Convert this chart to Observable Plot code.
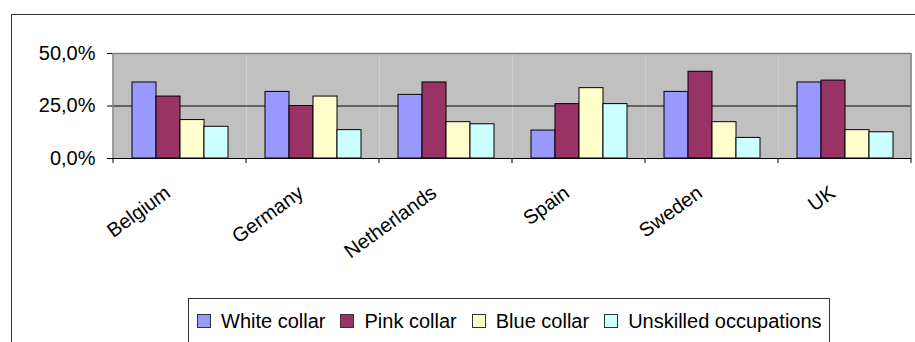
<!DOCTYPE html>
<html><head><meta charset="utf-8">
<script src="https://cdn.jsdelivr.net/npm/d3@7"></script>
<script src="https://cdn.jsdelivr.net/npm/@observablehq/plot@0.6"></script>
<style>
body{margin:0;background:#fff;font-family:"Liberation Sans",Arial,sans-serif;}
#wrap{position:relative;width:915px;height:342px;overflow:hidden;background:#fff}
#frame{position:absolute;left:11px;top:14px;width:960px;height:400px;border:1.5px solid #333;box-sizing:border-box}
#chart{position:absolute;left:0;top:0}
#legend{position:absolute;left:188px;top:298px;width:642px;height:80px;border:1px solid #333;box-sizing:border-box;background:#fff}
#legend .row{position:absolute;left:8px;top:12px;height:20px;display:flex;align-items:center;font-size:20px;line-height:20px;white-space:nowrap}
#legend .sw{display:inline-block;width:12px;height:12px;border:1px solid #333;margin-right:10px}
#legend .it{display:flex;align-items:center;margin-right:15px}
</style>
</head><body>
<div id="wrap"><div id="frame"></div><div id="chart"></div><div id="legend"><div class="row"></div></div></div>
<script>
const countries = ["Belgium","Germany","Netherlands","Spain","Sweden","UK"];
const series = ["White collar","Pink collar","Blue collar","Unskilled occupations"];
const whiteCollar = [36.2,31.7,30.3,13.3,31.7,36.2];
const pinkCollar = [29.5,25.0,36.2,25.9,41.3,37.1];
const blueCollar = [18.3,29.5,17.3,33.5,17.3,13.5];
const unskilled = [15.1,13.5,16.3,25.9,9.8,12.5];
const colors = ["#9999FF","#993366","#FFFFCC","#CCFFFF"];
const yTicks = [0,25,50];

const values = [whiteCollar, pinkCollar, blueCollar, unskilled];
const table = [];
countries.forEach((c,i)=>series.forEach((s,j)=>table.push({country:c, series:s, value:values[j][i]})));

const fmt = d => d.toFixed(1).replace(".", ",") + "%";

const plot = Plot.plot({
  width: 915, height: 290,
  marginLeft: 113, marginRight: 4, marginTop: 53, marginBottom: 132,
  style: {fontFamily: "'Liberation Sans', Arial, sans-serif", fontSize: "20px", color: "#000", background: "transparent", overflow: "visible"},
  fx: {domain: countries, padding: 0, label: null},
  x: {domain: series, paddingInner: 0, paddingOuter: 0.714, axis: null},
  y: {domain: [0,50], axis: null},
  color: {domain: series, range: colors},
  marks: [
    Plot.frame({fill: "#C0C0C0", stroke: null}),
    Plot.ruleY([25], {stroke: "#000", strokeWidth: 1}),
    Plot.ruleY([50], {stroke: "#808080", strokeWidth: 1.5}),
    Plot.barY(table, {fx: "country", x: "series", y: "value", fill: "series", stroke: "#000", strokeWidth: 1}),
    Plot.ruleY([0], {stroke: "#000", strokeWidth: 1.2}),
    Plot.axisY({ticks: yTicks, tickFormat: fmt, tickSize: 6, tickPadding: 12, fontSize: 20, label: null, anchor: "left"}),
    Plot.axisFx({anchor: "bottom", tickRotate: -36, tickSize: 0, tickPadding: 32, textAnchor: "end", fontSize: 20, label: null, dx: -12})
  ]
});
document.getElementById("chart").appendChild(plot);

// plot-area borders and category boundary ticks, placed from Plot's own scales
const fxs = plot.scale("fx"), ys = plot.scale("y");
const band = d3.scaleBand(fxs.domain, fxs.range).paddingInner(fxs.paddingInner ?? 0).paddingOuter(fxs.paddingOuter ?? 0);
const yl = d3.scaleLinear(ys.domain, ys.range);
const bounds = countries.map(c => band(c)).concat([band(countries[countries.length-1]) + band.bandwidth()]);
const g = d3.select(plot).append("g");
const y0 = yl(0), yTop = yl(50);
g.selectAll("line.b").data([bounds[0], bounds[bounds.length-1]]).join("line")
  .attr("x1", d=>d).attr("x2", d=>d).attr("y1", yTop).attr("y2", y0)
  .attr("stroke", "#808080").attr("stroke-width", 1.5);
g.selectAll("line.t").data(bounds).join("line")
  .attr("x1", d=>d).attr("x2", d=>d).attr("y1", y0).attr("y2", y0 + 5)
  .attr("stroke", "#000").attr("stroke-width", 1);

const row = document.querySelector("#legend .row");
series.forEach((s,i)=>{
  const it = document.createElement("span"); it.className = "it";
  const sw = document.createElement("span"); sw.className = "sw"; sw.style.background = colors[i];
  it.appendChild(sw); it.appendChild(document.createTextNode(s));
  row.appendChild(it);
});
</script>
</body></html>
